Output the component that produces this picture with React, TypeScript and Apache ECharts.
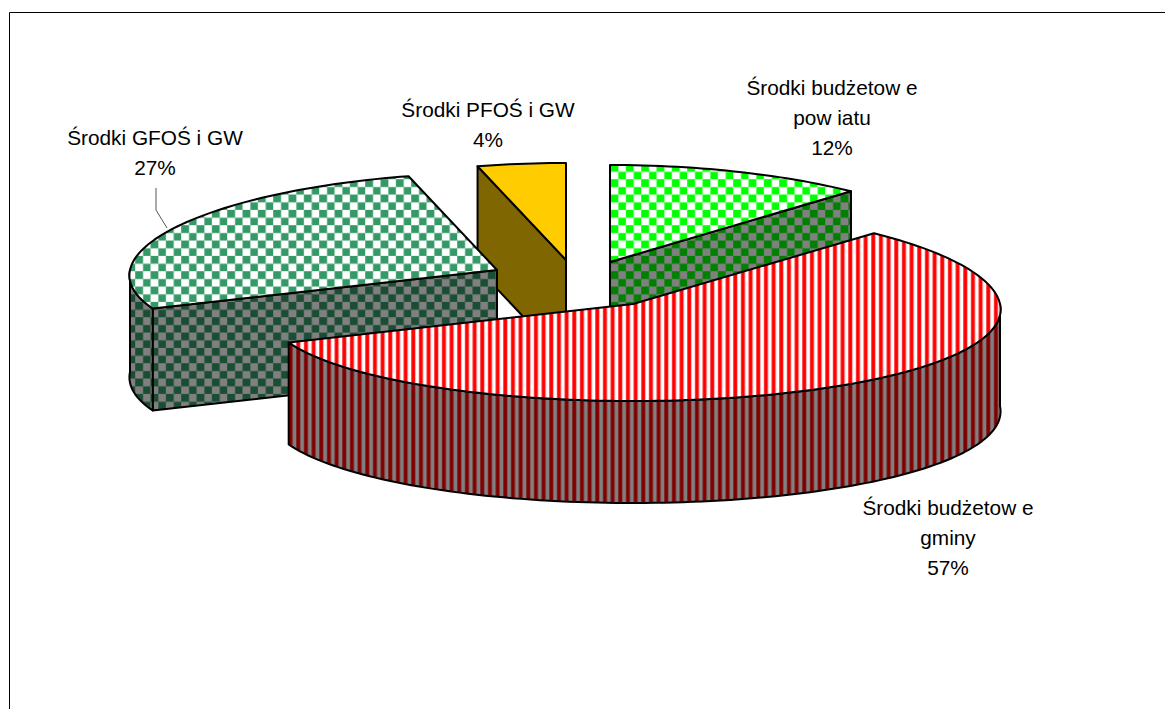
import React, { useEffect, useRef } from "react";
import * as echarts from "echarts";

const categories = [
  "Środki budżetow e\npow iatu",
  "Środki budżetow e\ngminy",
  "Środki GFOŚ i GW",
  "Środki PFOŚ i GW",
];
const shareValues = [12.0, 56.5, 27.4, 4.1];

const CENTERS = [
  [610, 262],
  [633, 304],
  [497, 270],
  [566, 260],
];
const PAINT_Z = [1, 4, 3, 2];
const LABEL_POS = [
  [832, 87],
  [948, 507],
  [155, 137],
  [488, 109],
];
const RX = 367;
const RY = 97;
const DEPTH = 102;
const PERSPECTIVE = 0.056;
const CELL = 23;
const PHASE_X = 15;
const PHASE_Y = 9;

function tile(size: number, draw: (c: CanvasRenderingContext2D) => void) {
  const cv = document.createElement("canvas");
  cv.width = size;
  cv.height = size;
  const c = cv.getContext("2d") as CanvasRenderingContext2D;
  draw(c);
  return {
    image: cv,
    repeat: "repeat",
    imageWidth: size,
    imageHeight: size,
    scaleX: 1 / 3,
    scaleY: 1 / 3,
  };
}
function stripes(bg: string, fg: string) {
  return tile(CELL, (c) => {
    c.fillStyle = bg;
    c.fillRect(0, 0, CELL, CELL);
    c.fillStyle = fg;
    for (const dx of [-CELL, 0]) c.fillRect(PHASE_X + dx, 0, 12, CELL);
  });
}
function checks(bg: string, fg: string) {
  const size = CELL * 2;
  return tile(size, (c) => {
    c.fillStyle = bg;
    c.fillRect(0, 0, size, size);
    c.fillStyle = fg;
    for (const dx of [-size, 0]) {
      for (const dy of [-size, 0]) {
        c.fillRect(PHASE_X + dx, PHASE_Y + dy, CELL, CELL);
        c.fillRect(PHASE_X + dx + CELL, PHASE_Y + dy + CELL, CELL, CELL);
      }
    }
  });
}

export default function App() {
  const ref = useRef<HTMLDivElement>(null);
  useEffect(() => {
    document.body.style.margin = "0";
    const chart = echarts.init(ref.current as HTMLDivElement, null, { renderer: "svg" });

    const total = shareValues.reduce((a, b) => a + b, 0);
    const toRad = (v: number) => (v / total) * Math.PI * 2;
    const starts: number[] = [];
    shareValues.reduce((acc, v, i) => {
      starts[i] = acc;
      return acc + toRad(v);
    }, 0);

    const faces = [
      { top: checks("#ffffff", "#00ff00"), wall: checks("#808080", "#008000") },
      { top: stripes("#ffffff", "#ff0000"), wall: stripes("#808080", "#800000") },
      { top: checks("#ffffff", "#339966"), wall: checks("#808080", "#1a4d33") },
      { top: "#ffcc00", wall: "#806600" },
    ];

    const renderItem = (params: any, api: any) => {
      const i = params.dataIndex;
      const a1 = starts[i];
      const a2 = a1 + toRad(api.value(0));
      const [cx, cy] = CENTERS[i];
      const pt = (a: number, dy = 0) => [
        cx + RX * Math.sin(a) * (1 - PERSPECTIVE * Math.cos(a)),
        cy - RY * Math.cos(a) + dy,
      ];
      const arc = (from: number, to: number, dy = 0) => {
        const n = Math.max(2, Math.ceil(Math.abs(to - from) * 40));
        const out: number[][] = [];
        for (let k = 0; k <= n; k++) out.push(pt(from + ((to - from) * k) / n, dy));
        return out;
      };
      const stroke = { stroke: "#000", lineWidth: 2, lineJoin: "round" };
      const z2 = PAINT_Z[i];
      const children: any[] = [];
      const poly = (points: number[][], fill: any, sub: number) =>
        children.push({
          type: "polygon",
          z2: z2 * 10 + sub,
          shape: { points },
          style: { fill, ...stroke },
        });

      // Cut faces that turn towards the viewer
      if (Math.sin(a2) > 0.001) {
        poly([[cx, cy], pt(a2), pt(a2, DEPTH), [cx, cy + DEPTH]], faces[i].wall, 0);
      }
      if (-Math.sin(a1) > 0.001) {
        poly([[cx, cy], pt(a1), pt(a1, DEPTH), [cx, cy + DEPTH]], faces[i].wall, 0);
      }
      // Curved outer wall: the part of the rim on the near side
      const w1 = Math.max(a1, Math.PI / 2);
      const w2 = Math.min(a2, (Math.PI * 3) / 2);
      if (w2 > w1) {
        poly([...arc(w1, w2), ...arc(w2, w1, DEPTH)], faces[i].wall, 1);
      }
      // Top face
      poly([[cx, cy], ...arc(a1, a2)], faces[i].top, 2);
      return { type: "group", children };
    };

    const labels = categories.map((name, i) => ({
      type: "text",
      z: 10,
      style: {
        text: `${name}\n${Math.round((shareValues[i] * 100) / total)}%`,
        x: LABEL_POS[i][0],
        y: LABEL_POS[i][1] - 15,
        align: "center",
        verticalAlign: "top",
        font: "20.8px 'Liberation Sans', Arial, sans-serif",
        lineHeight: 30,
        fill: "#000",
      },
    }));

    chart.setOption({
      animation: false,
      backgroundColor: "#ffffff",
      graphic: [
        { type: "line", shape: { x1: 9.5, y1: 12.5, x2: 1165, y2: 12.5 }, style: { stroke: "#000", lineWidth: 1 } },
        { type: "line", shape: { x1: 9.5, y1: 12.5, x2: 9.5, y2: 709 }, style: { stroke: "#000", lineWidth: 1 } },
        {
          type: "polyline",
          z: 10,
          shape: { points: [[156, 188], [156, 210], [167, 228]] },
          style: { stroke: "#555", lineWidth: 1, fill: "none" },
        },
        ...labels,
      ],
      series: [
        {
          type: "custom",
          coordinateSystem: "none",
          renderItem,
          data: categories.map((name, i) => ({ name, value: [shareValues[i]] })),
        },
      ],
    });
    return () => chart.dispose();
  }, []);
  return <div ref={ref} style={{ position: "fixed", left: 0, top: 0, width: 1165, height: 709 }} />;
}
